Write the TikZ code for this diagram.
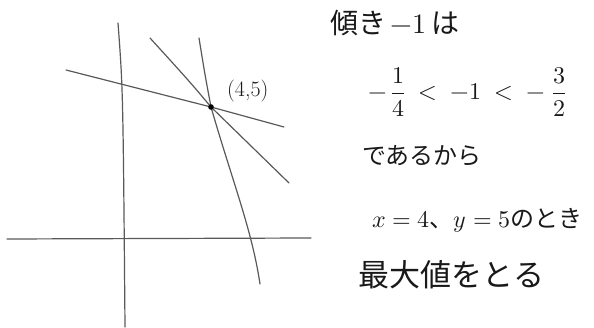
\documentclass[tikz,border=0pt]{standalone}
\usepackage{fontspec}
\usepackage{unicode-math}
\setmathfont{Latin Modern Math}
\newfontfamily\jp{Noto Sans CJK JP}
\begin{document}
\begin{tikzpicture}[x=1pt,y=-1pt,
  sk/.style={draw=black!65,line width=1.2pt,line cap=round},
  txt/.style={anchor=west,inner sep=0pt,text=black!90}]
\useasboundingbox (0,0) rectangle (594,328);
\coordinate (P) at (211,107);
% axes
\draw[sk] (118,23) .. controls (123,90) .. (125,327);
\draw[sk] (7,239) -- (311,238);
% lines through (4,5)
\draw[sk] (66,70) -- (P) -- (284,127);
\draw[sk] (150,38) .. controls (190,82) .. (P) .. controls (250,145) .. (289,183);
\draw[sk] (199,38) .. controls (205,75) .. (P) .. controls (232,180) and (252,230) .. (260,284);
\fill[black] (P) circle (2.8);
\node[txt] (lab) at (227,91) {\fontsize{22}{22}\selectfont (4,5)};
% text
\node[txt] (t1) at (330,23) {\jp\fontsize{28}{28}\selectfont 傾き\,$-1$\,は};
\node[txt] (t2) at (368,92) {\fontsize{24}{24}\selectfont $\displaystyle -\,\frac{1}{4} \;<\; -1 \;<\; -\;\frac{3}{2}$};
\node[txt] (t3) at (362,156) {\jp\fontsize{24}{24}\selectfont であるから};
\node[txt] (t4) at (372,220) {\jp\fontsize{24}{24}\selectfont $x=4$、$y=5$のとき};
\node[txt] (t5) at (358,275) {\jp\fontsize{31}{31}\selectfont 最大値をとる};
\end{tikzpicture}
\end{document}
